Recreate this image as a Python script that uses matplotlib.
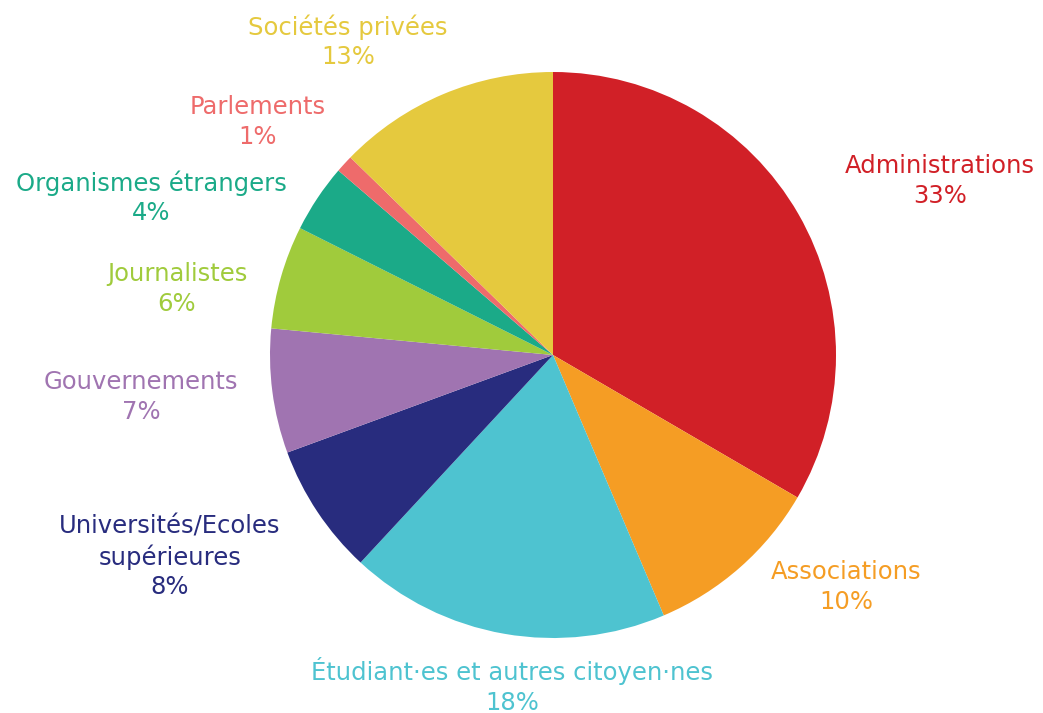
import matplotlib
matplotlib.use("Agg")
import matplotlib.pyplot as plt

categories = ["Administrations", "Associations", "Étudiant·es et autres citoyen·nes",
              "Universités/Ecoles\nsupérieures", "Gouvernements", "Journalistes",
              "Organismes étrangers", "Parlements", "Sociétés privées"]
values = [33.4, 10.2, 18.3, 7.5, 7.1, 5.9, 3.9, 1.0, 12.7]
pct_labels = ["33%", "10%", "18%", "8%", "7%", "6%", "4%", "1%", "13%"]
colors = ["#D12027", "#F59D24", "#4EC3D0", "#282C7E", "#A074B1",
          "#A0CB3C", "#1BAA88", "#EE6B6B", "#E5C93E"]
# label block centres (pixel coords, y down)
label_pos = [(940, 181), (846, 587), (512, 686), (170, 557), (141, 397),
             (177, 289), (151, 198), (258, 122), (348, 42)]

W, H = 1043, 713
fig = plt.figure(figsize=(W / 100, H / 100), dpi=100)
ax = fig.add_axes([0, 0, 1, 1])

ax.pie(values, colors=colors, startangle=90, counterclock=False,
       center=(553, H - 355), radius=283, frame=True,
       wedgeprops=dict(linewidth=0))
ax.set_xlim(0, W)
ax.set_ylim(0, H)
ax.set_aspect("equal")
ax.axis("off")

for cat, p, c, (x, y) in zip(categories, pct_labels, colors, label_pos):
    ax.text(x, H - y, f"{cat}\n{p}", color=c, ha="center", va="center",
            fontsize=17.5, family=["DejaVu Sans"], fontweight="normal",
            linespacing=1.27, transform=ax.transData)

fig.savefig("out.png", dpi=100)
